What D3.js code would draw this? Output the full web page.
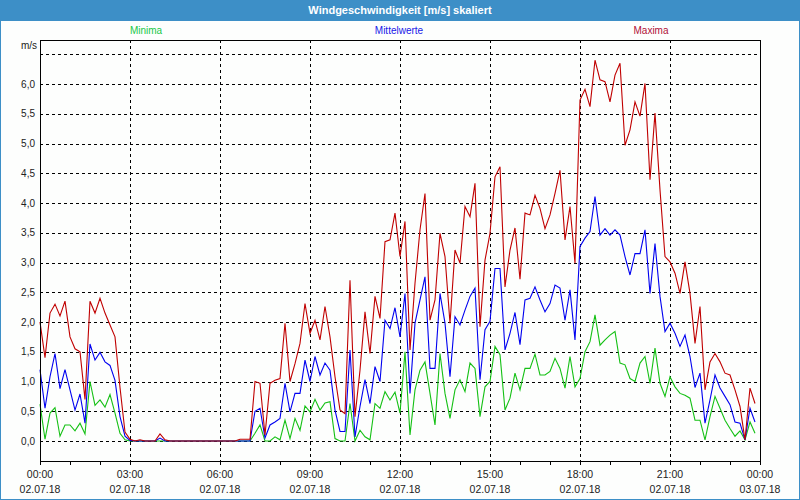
<!DOCTYPE html>
<html>
<head>
<meta charset="utf-8">
<script src="https://cdn.jsdelivr.net/npm/d3@7/dist/d3.min.js"></script>
<style>
  body { margin: 0; background: #fff; }
  svg { display: block; font-family: "Liberation Sans", Arial, sans-serif; }
</style>
</head>
<body>
<div class="container"></div>
<script>
// 10-minute values, 02.07.18 00:00 - 23:50
const minima = [0.62,0.03,0.47,0.56,0.08,0.27,0.27,0.17,0.3,0.12,1.0,0.6,0.69,0.57,0.78,0.47,0.13,0.02,0,
  0,0,0,0,0,0,0,0,0,0,0,0,0,0,0,0,0,0,0,0,0,0,0,0,
  0.13,0.27,0,0,0.07,0.02,0.35,0.04,0.38,0.18,0.59,0.49,0.7,0.52,0.64,0.66,0.04,0,0,0.63,0,0.18,0.07,0.02,
  0.63,0.55,0.83,0.69,0.82,0.47,1.5,0.1,0.86,1.19,1.33,0.8,0.27,1.47,0.8,0.38,0.86,1.03,0.83,1.31,1.22,0.41,
  0.91,1.0,1.59,1.45,0.52,0.72,1.14,0.86,1.22,1.22,1.46,1.11,1.11,1.17,1.39,1.22,0.89,1.42,0.91,1.05,1.5,1.67,
  2.12,1.61,1.7,1.78,1.84,1.31,1.28,1.05,1.0,1.31,1.42,0.97,1.56,0.97,0.75,1.08,0.91,0.8,0.77,0.72,0.35,0.35,
  0.02,0.41,0.75,0.55,0.35,0.21,0.08,0.17,0.02,0.32,0.13]
const mittel = [1.2,0.55,1.08,1.47,0.88,1.2,0.86,0.52,0.79,0.3,1.63,1.36,1.49,1.33,1.27,1.02,0.41,0.08,0.01,
  0,0,0,0,0,0.05,0,0,0,0,0,0,0,0,0,0,0,0,0,0,0,0,0,0,
  0.5,0.55,0.05,0.27,0.32,0.38,0.97,0.49,0.8,0.8,1.36,1.0,1.42,1.11,1.31,1.19,0.52,0.16,0.16,1.53,0.07,0.58,
  1.03,0.63,1.25,1.0,2.03,1.89,2.24,1.75,2.48,0.8,1.98,2.37,2.76,1.22,1.22,2.48,1.98,1.08,2.09,1.95,2.2,2.43,
  2.57,1.03,1.87,2.01,2.9,2.9,1.53,1.81,2.16,1.62,2.37,2.4,2.59,2.37,2.17,2.31,2.62,2.57,2.03,2.54,1.7,3.27,
  3.41,3.52,4.11,3.46,3.57,3.46,3.55,3.46,3.1,2.79,3.15,3.15,3.55,2.48,3.32,2.43,1.84,1.98,1.81,1.59,1.78,1.42,
  0.9,1.14,0.3,0.69,1.11,0.89,0.75,0.61,0.32,0.3,0.02,0.55,0.32]
const maxima = [2.0,1.4,2.15,2.3,2.1,2.35,1.75,1.55,1.5,0.7,2.35,2.15,2.4,2.15,1.95,1.75,0.9,0.15,
  0.03,0,0.02,0,0,0,0.12,0.02,0,0,0,0,0,0,0,0,0,0,0,0,0,0,0.03,0.03,0.03,
  1.0,0.97,0.1,0.97,1.02,1.05,1.98,1.0,1.3,1.64,2.31,1.81,2.03,1.7,2.26,1.75,1.08,0.52,0.46,2.7,0.41,1.19,
  2.17,1.47,2.43,2.06,3.35,3.38,3.83,3.1,3.69,1.53,2.65,3.55,4.16,2.03,2.37,3.49,3.1,1.98,3.21,2.99,3.94,3.77,
  4.33,1.92,3.04,3.49,4.44,4.61,2.59,3.21,3.58,2.72,3.83,3.8,4.13,3.91,3.57,3.8,4.16,4.55,3.38,3.94,2.99,5.73,
  5.91,5.62,6.4,6.07,6.04,5.7,6.15,6.35,4.97,5.23,5.7,5.46,6.01,4.39,5.51,4.22,3.1,3.01,2.82,2.48,3.01,2.48,
  1.64,2.26,0.86,1.33,1.47,1.33,1.14,1.11,0.86,0.58,0.02,0.89,0.63]

const series = [
  { name: "Minima", values: minima, color: "#14c014", labelColor: "#18c848", labelX: 146 },
  { name: "Mittelwerte", values: mittel, color: "#0000f0", labelColor: "#1818e8", labelX: 399 },
  { name: "Maxima", values: maxima, color: "#c00000", labelColor: "#b01038", labelX: 651 }
]
const title = "Windgeschwindigkeit [m/s] skaliert"
const yUnit = "m/s"
const yTicks = [0,0.5,1,1.5,2,2.5,3,3.5,4,4.5,5,5.5,6]
const yGrid = [0,0.5,1,1.5,2,2.5,3,3.5,4,4.5,5,5.5,6,6.5]
const xTickHours = [0,3,6,9,12,15,18,21,24]
const xTimeLabels = ["00:00","03:00","06:00","09:00","12:00","15:00","18:00","21:00","00:00"]
const xDateLabels = ["02.07.18","02.07.18","02.07.18","02.07.18","02.07.18","02.07.18","02.07.18","02.07.18","03.07.18"]
const stepMinutes = 10

const width = 800
const height = 500
const plot = { left: 40, right: 760, top: 40, bottom: 461 }

const xScale = d3.scaleLinear().domain([0, 24 * 60]).range([plot.left, plot.right])
const yScale = d3.scaleLinear().domain([0, 6]).range([441, 84])

const svg = d3.select(".container").append("svg")
  .attr("width", width)
  .attr("height", height)

svg.append("rect")
  .attr("x", 0.5).attr("y", 0.5)
  .attr("width", width - 1).attr("height", height - 1)
  .attr("fill", "#fdfefd")
  .attr("stroke", "#3d8fc7")

svg.append("rect")
  .attr("x", 0).attr("y", 0)
  .attr("width", width).attr("height", 21)
  .attr("fill", "#3d8fc7")

svg.append("text")
  .attr("x", width / 2).attr("y", 14)
  .attr("text-anchor", "middle")
  .attr("fill", "#fff")
  .attr("font-size", 11)
  .attr("font-weight", "bold")
  .text(title)

svg.selectAll(".legend")
  .data(series)
  .enter()
  .append("text")
  .attr("class", "legend")
  .attr("x", d => d.labelX)
  .attr("y", 34)
  .attr("text-anchor", "middle")
  .attr("font-size", 10)
  .attr("fill", d => d.labelColor)
  .text(d => d.name)

svg.append("text")
  .attr("x", 37).attr("y", 49)
  .attr("text-anchor", "end")
  .attr("font-size", 10)
  .attr("fill", "#222")
  .text(yUnit)

// grid
const grid = svg.append("g")
  .attr("stroke", "#000")
  .attr("stroke-dasharray", "3,3")
  .attr("shape-rendering", "crispEdges")

grid.selectAll(".hgrid")
  .data(yGrid)
  .enter()
  .append("line")
  .attr("x1", plot.left).attr("x2", plot.right)
  .attr("y1", d => Math.round(yScale(d)) + 0.5)
  .attr("y2", d => Math.round(yScale(d)) + 0.5)

grid.selectAll(".vgrid")
  .data(xTickHours.slice(1, -1))
  .enter()
  .append("line")
  .attr("x1", d => Math.round(xScale(d * 60)) + 0.5)
  .attr("x2", d => Math.round(xScale(d * 60)) + 0.5)
  .attr("y1", plot.top).attr("y2", plot.bottom)

const yAxis = d3.axisLeft(yScale)
  .tickValues(yTicks)
  .tickSize(0)
  .tickPadding(5)
  .tickFormat(d => d3.format(".1f")(d).replace(".", ","))

svg.append("g")
  .attr("id", "y-axis")
  .attr("transform", `translate(${plot.left},0)`)
  .call(yAxis)
  .call(g => g.select(".domain").remove())
  .call(g => g.selectAll("text").attr("font-size", 10).attr("fill", "#222").attr("font-family", "Liberation Sans"))

const xAxis = d3.axisBottom(xScale)
  .tickValues(d3.range(0, 25).map(h => h * 60))
  .tickSize(4)
  .tickFormat("")

svg.append("g")
  .attr("id", "x-axis")
  .attr("transform", `translate(0,${plot.bottom})`)
  .attr("shape-rendering", "crispEdges")
  .call(xAxis)
  .call(g => g.select(".domain").remove())

const xLabels = svg.append("g")
  .attr("font-size", 10.5)
  .attr("fill", "#222")
  .attr("text-anchor", "middle")

xLabels.selectAll(".tlabel")
  .data(xTickHours)
  .enter()
  .append("text")
  .attr("x", d => xScale(d * 60))
  .attr("y", 478)
  .text((d, i) => xTimeLabels[i])

xLabels.selectAll(".dlabel")
  .data(xTickHours)
  .enter()
  .append("text")
  .attr("x", d => xScale(d * 60))
  .attr("y", 493)
  .text((d, i) => xDateLabels[i])

const line = d3.line()
  .x((d, i) => xScale(i * stepMinutes))
  .y(d => yScale(d))

svg.selectAll(".series")
  .data(series)
  .enter()
  .append("path")
  .attr("class", "series")
  .attr("d", d => line(d.values))
  .attr("fill", "none")
  .attr("stroke", d => d.color)
  .attr("stroke-width", 1.1)

svg.append("rect")
  .attr("x", plot.left + 0.5).attr("y", plot.top + 0.5)
  .attr("width", plot.right - plot.left).attr("height", plot.bottom - plot.top)
  .attr("fill", "none")
  .attr("stroke", "#000")
  .attr("shape-rendering", "crispEdges")
</script>
</body>
</html>
